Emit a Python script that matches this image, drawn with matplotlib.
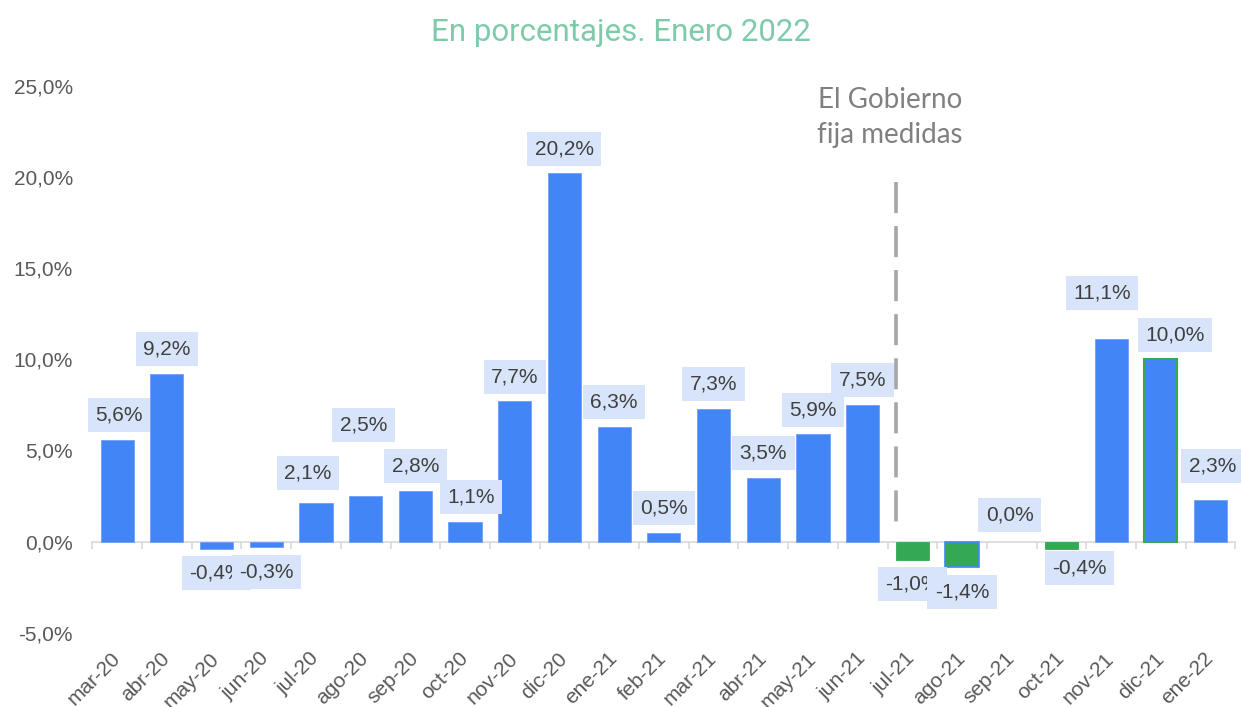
import matplotlib
matplotlib.use("Agg")
import matplotlib.pyplot as plt
from matplotlib.ticker import FuncFormatter, FixedLocator

# ---- data ----
categories = ["mar-20", "abr-20", "may-20", "jun-20", "jul-20", "ago-20", "sep-20",
              "oct-20", "nov-20", "dic-20", "ene-21", "feb-21", "mar-21", "abr-21",
              "may-21", "jun-21", "jul-21", "ago-21", "sep-21", "oct-21", "nov-21",
              "dic-21", "ene-22"]
values = [5.6, 9.2, -0.4, -0.3, 2.1, 2.5, 2.8, 1.1, 7.7, 20.2, 6.3, 0.5, 7.3, 3.5,
          5.9, 7.5, -1.0, -1.4, 0.0, -0.4, 11.1, 10.0, 2.3]
title = "En porcentajes. Enero 2022"
note_lines = ["El Gobierno", "fija medidas"]
yticks = [-5, 0, 5, 10, 15, 20, 25]

# ---- styles ----
BLUE = "#4285f4"
GREEN = "#34a853"
face_colors = [BLUE] * 16 + [GREEN, GREEN, BLUE, GREEN, BLUE, BLUE, BLUE]
edge_colors = ["#6f9ff6"] * 16 + [GREEN, BLUE, BLUE, GREEN, "#6f9ff6", GREEN, "#6f9ff6"]
edge_widths = [0.6] * 16 + [0.6, 1.2, 0.0, 0.6, 0.6, 1.5, 0.6]

# label offsets (pixels) relative to the default position
label_dx_px = [2, 0, 0, 0, -8, -2, 0, 6, 0, 0, 0, 0, 0, 0, 0, 0, 0, 0, -2, 18, -9, 14, 2]
label_dy_px = [0, 0, 0, 0, 6, 47, 0, 0, 0, 0, 0, 0, 0, 0, 0, 0, 0, 0, 2, -5, 22, 0, 9]

LABEL_BG = "#d7e4fa"
TEXT_DARK = "#404040"
AXIS_GREY = "#595959"
LINE_GREY = "#d9d9d9"

W, H = 1241, 707
fig = plt.figure(figsize=(W / 100, H / 100), dpi=100)
ax = fig.add_axes([92.3 / W, 1 - 632.9 / H, (1235.4 - 92.3) / W, (632.9 - 85.7) / H])

x = list(range(len(categories)))
ax.bar(x, values, width=0.67, color=face_colors, edgecolor=edge_colors,
       linewidth=edge_widths, zorder=2)

ax.set_xlim(-0.5, len(categories) - 0.5)
ax.set_ylim(-5, 25)

for s in ["left", "right", "top"]:
    ax.spines[s].set_visible(False)
ax.spines["bottom"].set_position(("data", 0))
ax.spines["bottom"].set_color(LINE_GREY)
ax.spines["bottom"].set_linewidth(1.2)
ax.spines["bottom"].set_zorder(1)

ax.set_xticks(x)
ax.set_xticklabels(categories, rotation=45, ha="right", va="center",
                   rotation_mode="anchor",
                   fontsize=15, color=AXIS_GREY, family="Liberation Sans")
ax.xaxis.set_minor_locator(FixedLocator([i - 0.5 for i in range(len(categories) + 1)]))
ax.tick_params(axis="x", which="major", length=0, pad=82)
ax.tick_params(axis="x", which="minor", length=5, width=1.2, color=LINE_GREY, direction="out")

ax.set_yticks(yticks)
ax.yaxis.set_major_formatter(FuncFormatter(lambda v, p: f"{v:.1f}".replace(".", ",") + "%"))
ax.tick_params(axis="y", length=0, pad=14, labelsize=15, labelcolor=AXIS_GREY)
for lab in ax.get_yticklabels():
    lab.set_family("Liberation Sans")

# data labels
for i, v in enumerate(values):
    base = 24.5 if v >= 0 else -24.5
    dy = (base + label_dy_px[i]) * 0.72 if v >= 0 else (base - label_dy_px[i]) * 0.72
    dx = label_dx_px[i] * 0.72
    txt = f"{v:.1f}".replace(".", ",") + "%"
    ax.annotate(txt, xy=(i, v), xytext=(dx, dy), textcoords="offset points",
                ha="center", va="center", fontsize=15, color=TEXT_DARK,
                family="Liberation Sans", zorder=4,
                bbox=dict(boxstyle="square,pad=0.36", fc=LABEL_BG, ec="none"))

# dashed marker line and note
ax.plot([15.67, 15.67], [19.74, 1.1], color="#a6a6a6", lw=2.6,
        linestyle=(0, (8.6, 3.6)), solid_capstyle="butt", dash_capstyle="butt", zorder=3)
ax.text(15.55, 23.78, note_lines[0], ha="center", va="baseline", fontsize=20,
        color="#808080", family="Lato")
ax.text(15.55, 21.86, note_lines[1], ha="center", va="baseline", fontsize=20,
        color="#808080", family="Lato")

fig.text(621 / W, 1 - 41 / H, title, ha="center", va="baseline", fontsize=22.5,
         color="#7ecba9", family="Roboto")

fig.savefig("out.png", dpi=100)
